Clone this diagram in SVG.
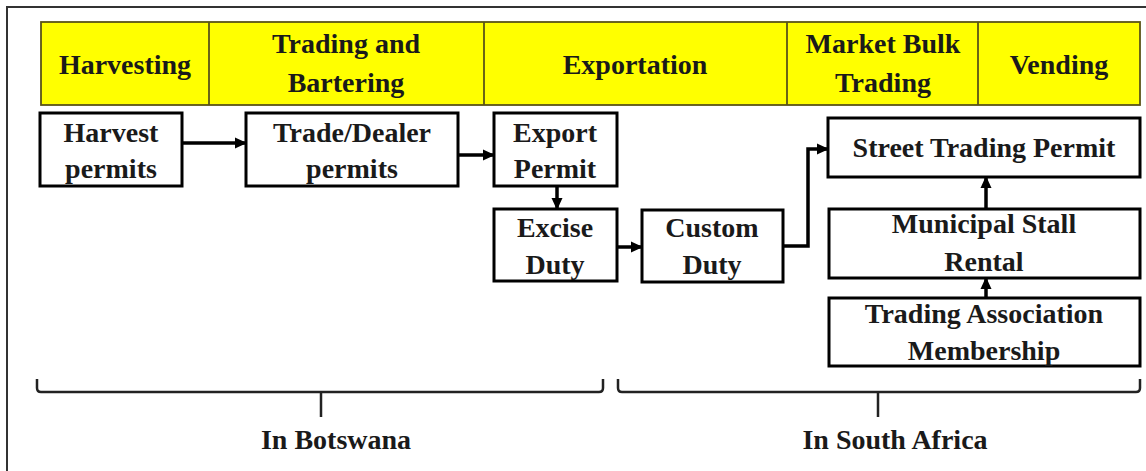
<svg xmlns="http://www.w3.org/2000/svg" width="1146" height="471" viewBox="0 0 1146 471">
<defs>
<style>
.t{font-family:"Liberation Serif","Times New Roman",serif;font-weight:bold;font-size:28px;fill:#1a1a1a;text-anchor:middle}
.hd{fill:#ffff00;stroke:#5a5418;stroke-width:1.8}
.bx{fill:#ffffff;stroke:#000;stroke-width:3}
.cn{fill:none;stroke:#000;stroke-width:3.5}
.br{fill:none;stroke:#222;stroke-width:2.5}
</style>
<marker id="ah" markerUnits="userSpaceOnUse" markerWidth="12" markerHeight="12" viewBox="0 0 12 12" refX="11" refY="6" orient="auto">
<path d="M0,0.5 L12,6 L0,11.5 Z" fill="#000"/>
</marker>
</defs>
<rect width="1146" height="471" fill="#ffffff"/>
<rect x="7" y="7" width="1160" height="480" fill="none" stroke="#333" stroke-width="2"/>

<g id="header">
<rect class="hd" x="41" y="22" width="1099" height="83"/>
<line class="hd" x1="209" y1="22" x2="209" y2="105"/>
<line class="hd" x1="484" y1="22" x2="484" y2="105"/>
<line class="hd" x1="787" y1="22" x2="787" y2="105"/>
<line class="hd" x1="978" y1="22" x2="978" y2="105"/>
<text class="t" x="125" y="74">Harvesting</text>
<text class="t" x="346" y="53">Trading and</text>
<text class="t" x="346" y="92">Bartering</text>
<text class="t" x="635" y="74">Exportation</text>
<text class="t" x="883" y="53">Market Bulk</text>
<text class="t" x="883" y="92">Trading</text>
<text class="t" x="1059" y="74">Vending</text>
</g>

<g id="harvest">
<rect class="bx" x="40" y="113" width="142" height="73"/>
<text class="t" x="111" y="142">Harvest</text>
<text class="t" x="111" y="178">permits</text>
</g>
<g id="trade">
<rect class="bx" x="246" y="113" width="212" height="73"/>
<text class="t" x="352" y="142">Trade/Dealer</text>
<text class="t" x="352" y="178">permits</text>
</g>
<g id="export">
<rect class="bx" x="494" y="113" width="123" height="73"/>
<text class="t" x="555" y="142">Export</text>
<text class="t" x="555" y="178">Permit</text>
</g>
<g id="excise">
<rect class="bx" x="494" y="209" width="123" height="72"/>
<text class="t" x="555" y="237">Excise</text>
<text class="t" x="555" y="274">Duty</text>
</g>
<g id="custom">
<rect class="bx" x="642" y="210" width="141" height="72"/>
<text class="t" x="712" y="237">Custom</text>
<text class="t" x="712" y="274">Duty</text>
</g>
<g id="street">
<rect class="bx" x="828" y="118" width="312" height="59"/>
<text class="t" x="984" y="157">Street Trading Permit</text>
</g>
<g id="municipal">
<rect class="bx" x="829" y="209" width="311" height="69"/>
<text class="t" x="984" y="233">Municipal Stall</text>
<text class="t" x="984" y="271">Rental</text>
</g>
<g id="association">
<rect class="bx" x="829" y="298" width="311" height="68"/>
<text class="t" x="984" y="323">Trading Association</text>
<text class="t" x="984" y="360">Membership</text>
</g>

<g id="connectors">
<line class="cn" x1="182" y1="143" x2="246" y2="143" marker-end="url(#ah)"/>
<line class="cn" x1="458" y1="155" x2="494" y2="155" marker-end="url(#ah)"/>
<line class="cn" x1="557" y1="186" x2="557" y2="209" marker-end="url(#ah)"/>
<line class="cn" x1="617" y1="247" x2="642" y2="247" marker-end="url(#ah)"/>
<path class="cn" d="M783,246 H808 V149 H828" marker-end="url(#ah)"/>
<line class="cn" x1="986" y1="209" x2="986" y2="177" marker-end="url(#ah)"/>
<line class="cn" x1="986" y1="298" x2="986" y2="278" marker-end="url(#ah)"/>
</g>

<g id="botswana">
<path class="br" d="M37,379 V388 Q37,392 41,392 H599 Q603,392 603,388 V379 M321,392 V417"/>
<text class="t" x="336" y="449">In Botswana</text>
</g>
<g id="southafrica">
<path class="br" d="M618,379 V388 Q618,392 622,392 H1136 Q1140,392 1140,388 V379 M878,392 V417"/>
<text class="t" x="895" y="449">In South Africa</text>
</g>
</svg>
